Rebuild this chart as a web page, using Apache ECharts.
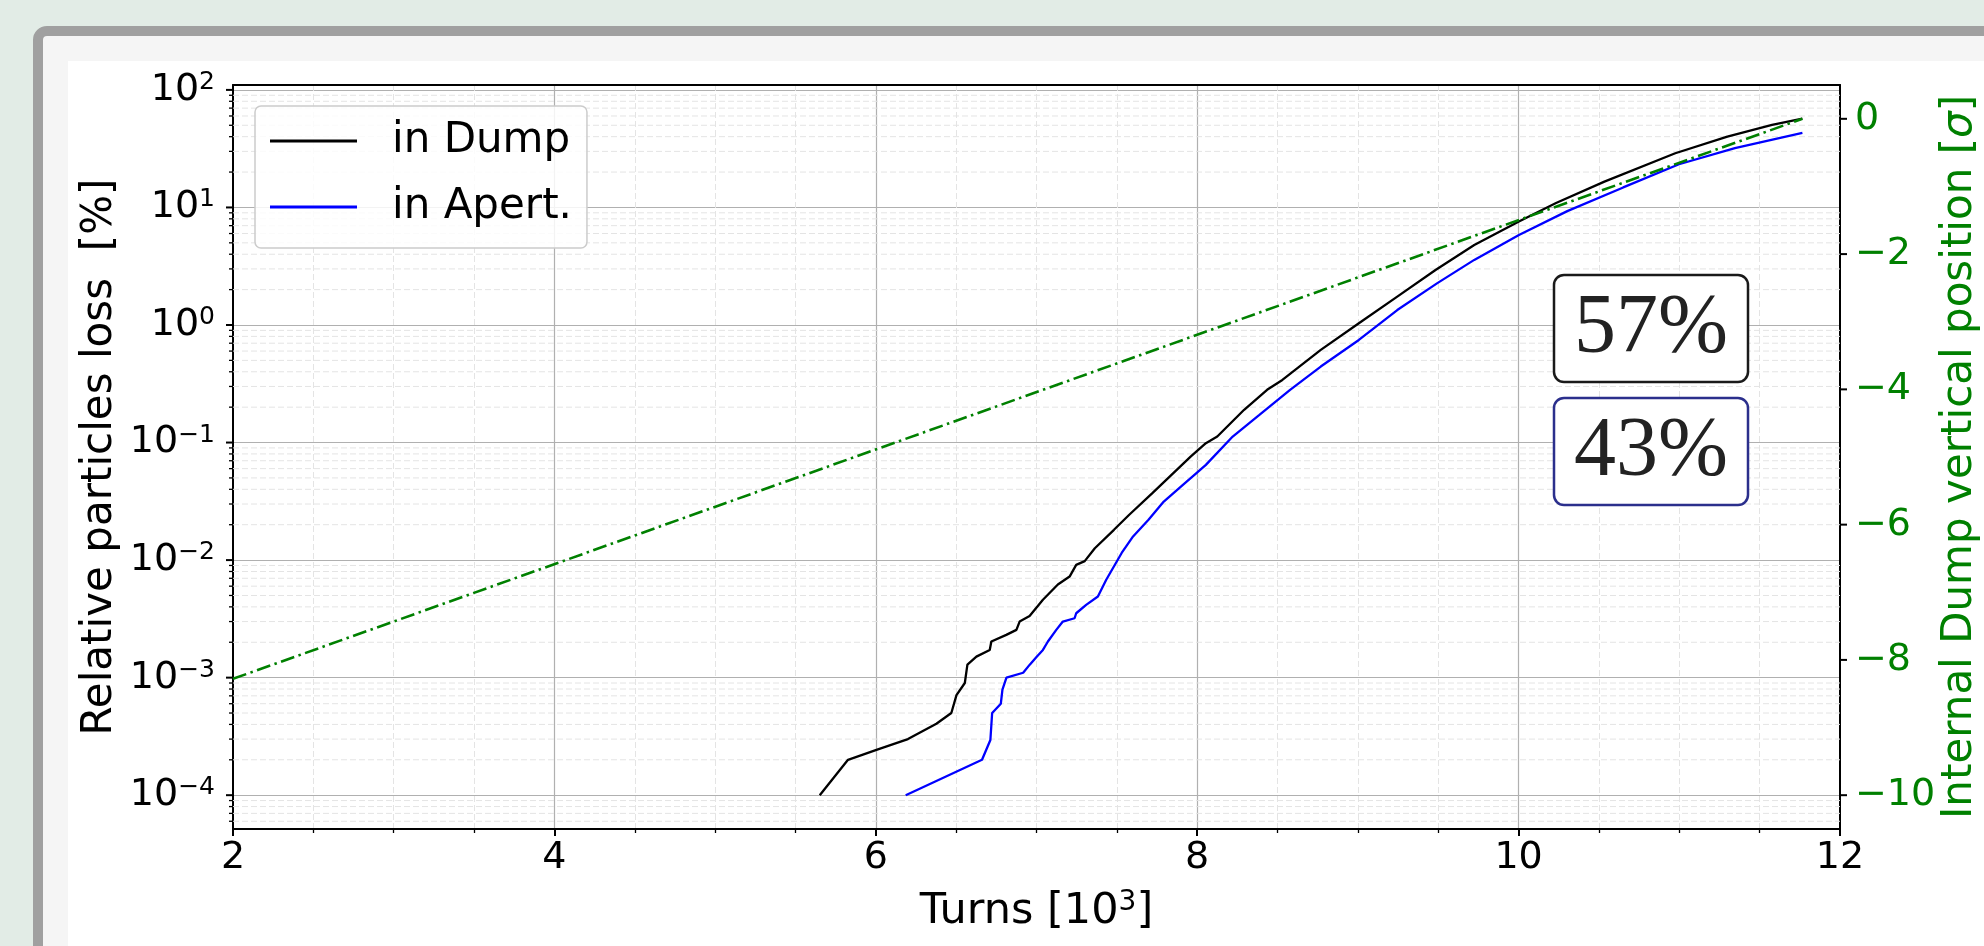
<!DOCTYPE html>
<html><head><meta charset="utf-8">
<script src="https://cdn.jsdelivr.net/npm/echarts@6/dist/echarts.min.js"></script>
<style>
html,body{margin:0;padding:0;width:1984px;height:946px;overflow:hidden;background:#e2ece6;}
#frame{position:absolute;left:33px;top:26px;width:2100px;height:1100px;border:10px solid #a0a0a0;border-radius:14px;background:#f5f5f5;box-sizing:border-box;}
#panel{position:absolute;left:68px;top:61px;width:2000px;height:1000px;background:#ffffff;}
#chart{position:absolute;left:0;top:0;width:1984px;height:946px;}
</style></head><body>
<div id="frame"></div><div id="panel"></div><div id="chart"></div>
<script>
// ---- data (turns in 10^3, loss in %) ----
const dumpTurns = [5.651,5.827,6.004,6.200,6.377,6.470,6.502,6.554,6.570,6.626,6.709,6.719,6.812,6.875,6.895,6.957,7.040,7.133,7.206,7.247,7.300,7.363,7.482,7.577,7.721,7.840,7.959,8.054,8.125,8.292,8.435,8.530,8.769,9.006,9.245,9.483,9.724,10.002,10.233,10.534,10.975,11.299,11.577,11.766];
const dumpLoss  = [1e-4,2.0e-4,2.43e-4,3.0e-4,4.05e-4,5.0e-4,7.1e-4,9.0e-4,1.29e-3,1.51e-3,1.72e-3,2.03e-3,2.31e-3,2.55e-3,3.0e-3,3.35e-3,4.6e-3,6.2e-3,7.24e-3,9.1e-3,9.8e-3,0.0126,0.0181,0.0243,0.0371,0.0531,0.076,0.0987,0.1125,0.19,0.281,0.341,0.614,1.035,1.745,2.94,4.80,7.58,10.9,16.6,28.9,40.1,50.4,57.0];
const apertTurns = [6.186,6.661,6.713,6.724,6.778,6.788,6.813,6.917,6.958,7.000,7.040,7.071,7.123,7.164,7.237,7.247,7.309,7.382,7.434,7.530,7.601,7.697,7.792,7.911,8.006,8.054,8.221,8.387,8.578,8.769,9.006,9.245,9.492,9.724,10.002,10.303,10.651,10.998,11.346,11.766];
const apertLoss  = [1e-4,2.0e-4,2.95e-4,5.0e-4,6.0e-4,7.9e-4,1.0e-3,1.1e-3,1.29e-3,1.5e-3,1.72e-3,2.03e-3,2.55e-3,3.0e-3,3.2e-3,3.53e-3,4.16e-3,4.9e-3,6.8e-3,0.0115,0.0159,0.022,0.0315,0.0436,0.0566,0.0646,0.1125,0.172,0.281,0.443,0.746,1.34,2.26,3.58,5.83,9.3,14.8,23.3,32.0,43.0];
const dumpPosTurns = [2.0, 11.766];
const dumpPosSigma = [-8.28, 0.0];
const seriesNames = ['in Dump', 'in Apert.'];
const boxLabels = ['57%', '43%'];
// axis ranges / ticks
const X_MIN = 2, X_MAX = 12, X_STEP = 2;
const Y_MIN = Math.pow(10, -4.2877), Y_MAX = Math.pow(10, 2.0417);
const R_MIN = -10.5, R_MAX = 0.5;
const leftMajor = [1e-4, 1e-3, 1e-2, 1e-1, 1, 10, 100];
const rightMajor = [-10, -8, -6, -4, -2, 0];
const leftMinor = [];
for (let k = -5; k <= 2; k++) for (let m = 2; m <= 9; m++) { const v = m * Math.pow(10, k); if (v > Y_MIN && v < Y_MAX) leftMinor.push(v); }

const FONT = 'DejaVu Sans';
const TICK_FS = 38, NAME_FS = 42, LEG_FS = 42;
const GREEN = '#008000';
const minus = s => String(s).replace('-', '\u2212');

function logLabel(v) {
  const e = Math.log10(v), r = Math.round(e);
  if (Math.abs(e - r) > 1e-6) return '';
  return '{b|10}{s|' + minus(r) + '}';
}
function rightLabel(v) {
  const r = Math.round(v);
  if (Math.abs(v - r) > 1e-6 || r % 2 !== 0) return '';
  return r === 0 ? '0' : minus(r);
}

const chart = echarts.init(document.getElementById('chart'), null, {renderer: 'canvas'});
const tickSeries = (data, yIdx, xAt, len, width, grid) => ({
  type: 'custom', xAxisIndex: 0, yAxisIndex: yIdx, silent: true, z: 1, clip: false,
  data: data.map(v => [xAt, v]),
  renderItem: (params, api) => {
    const p0 = api.coord([xAt, api.value(1)]);
    const children = [{type: 'line', shape: {x1: p0[0], y1: p0[1], x2: p0[0] + len, y2: p0[1]}, style: {stroke: '#000', lineWidth: width}}];
    if (grid) {
      const p1 = api.coord([X_MAX, api.value(1)]);
      children.unshift({type: 'line', shape: {x1: p0[0], y1: p0[1], x2: p1[0], y2: p1[1]}, style: {stroke: '#e4e4e4', lineWidth: 1, lineDash: [6, 3]}});
    }
    return {type: 'group', children};
  }
});

const option = {
  backgroundColor: 'transparent',
  animation: false,
  grid: {left: 233, top: 85, width: 1607, height: 744, containLabel: false, outerBoundsMode: 'none'},
  legend: {
    data: seriesNames, orient: 'vertical', left: 255, top: 106,
    icon: 'rect', itemWidth: 87, itemHeight: 3, itemGap: 24,
    padding: [14, 15, 20, 15],
    backgroundColor: 'rgba(255,255,255,0.85)', borderColor: '#cccccc', borderWidth: 1.5, borderRadius: 6,
    textStyle: {fontSize: LEG_FS, fontFamily: FONT, color: '#000', padding: [0, 0, 0, 30]}
  },
  xAxis: [{
    type: 'value', min: X_MIN, max: X_MAX, interval: X_STEP, position: 'bottom',
    axisLine: {show: true, onZero: false, lineStyle: {color: '#000', width: 2}},
    axisTick: {show: true, length: 7, lineStyle: {color: '#000', width: 2}},
    minorTick: {show: true, splitNumber: 4, length: 4, lineStyle: {color: '#000', width: 1.3}},
    axisLabel: {margin: 10, fontSize: TICK_FS, fontFamily: FONT, color: '#000'},
    splitLine: {show: true, showMinLine: false, showMaxLine: false, lineStyle: {color: '#b0b0b0', width: 1.2}},
    minorSplitLine: {show: true, lineStyle: {color: '#e4e4e4', width: 1, type: [6, 3]}},
    name: '{t|Turns [10}{s|3}{t|]}', nameLocation: 'middle', nameGap: 60, nameMoveOverlap: false,
    nameTextStyle: {fontSize: 43, fontFamily: FONT, color: '#000',
      rich: {t: {fontSize: 43, fontFamily: FONT, color: '#000', lineHeight: 45}, s: {fontSize: 28, fontFamily: FONT, color: '#000', verticalAlign: 'top', lineHeight: 28}}}
  }, {
    type: 'value', min: X_MIN, max: X_MAX, interval: X_STEP, position: 'top',
    axisLine: {show: true, onZero: false, lineStyle: {color: '#000', width: 2}},
    axisTick: {show: false}, axisLabel: {show: false}, splitLine: {show: false}
  }],
  yAxis: [{
    type: 'log', logBase: 10, min: Y_MIN, max: Y_MAX, position: 'left',
    axisLine: {show: true, onZero: false, lineStyle: {color: '#000', width: 2}},
    axisTick: {show: false},
    axisLabel: {margin: 18, formatter: logLabel,
      rich: {b: {fontSize: TICK_FS, fontFamily: FONT, color: '#000', lineHeight: 40}, s: {fontSize: 25, fontFamily: FONT, color: '#000', verticalAlign: 'top', lineHeight: 25}}},
    splitLine: {show: true, showMinLine: false, showMaxLine: false, lineStyle: {color: '#b0b0b0', width: 1.2}},
    name: 'Relative particles loss  [%]', nameLocation: 'middle', nameGap: 112, nameMoveOverlap: false,
    nameTextStyle: {fontSize: NAME_FS, fontFamily: FONT, color: '#000'}
  }, {
    type: 'value', min: R_MIN, max: R_MAX, minInterval: 2, maxInterval: 2, position: 'right',
    axisLine: {show: true, onZero: false, lineStyle: {color: '#000', width: 2}},
    axisTick: {show: false},
    axisLabel: {margin: 15, formatter: rightLabel, fontSize: TICK_FS, fontFamily: FONT, color: GREEN},
    splitLine: {show: false},
    name: '{n|Internal Dump vertical position [}{i|σ}{n|]}', nameLocation: 'middle', nameGap: 99, nameMoveOverlap: false,
    nameTextStyle: {fontSize: NAME_FS, fontFamily: FONT, color: GREEN,
      rich: {n: {fontSize: NAME_FS, fontFamily: FONT, color: GREEN}, i: {fontSize: NAME_FS, fontFamily: FONT, fontStyle: 'italic', color: GREEN}}}
  }],
  series: [
    tickSeries(leftMinor, 0, X_MIN, -4, 1.3, true),
    tickSeries(leftMajor, 0, X_MIN, -7, 2, false),
    tickSeries(rightMajor, 1, X_MAX, 7, 2, false),
    {name: seriesNames[0], type: 'line', xAxisIndex: 0, yAxisIndex: 0, symbol: 'none', showSymbol: false, z: 3,
     data: dumpTurns.map((x, i) => [x, dumpLoss[i]]),
     lineStyle: {color: '#000000', width: 2.3}, itemStyle: {color: '#000000'}},
    {name: seriesNames[1], type: 'line', xAxisIndex: 0, yAxisIndex: 0, symbol: 'none', showSymbol: false, z: 3,
     data: apertTurns.map((x, i) => [x, apertLoss[i]]),
     lineStyle: {color: '#0000ff', width: 2.3}, itemStyle: {color: '#0000ff'}},
    {name: 'Dump position', type: 'line', xAxisIndex: 0, yAxisIndex: 1, symbol: 'none', showSymbol: false, z: 4,
     data: dumpPosTurns.map((x, i) => [x, dumpPosSigma[i]]),
     lineStyle: {color: GREEN, width: 2.6, type: [14, 4.5, 2.5, 4.5]}, itemStyle: {color: GREEN}}
  ],
  graphic: [
    {type: 'rect', z: 10, shape: {x: 1554, y: 275, width: 194, height: 107, r: 10}, style: {fill: '#fff', stroke: '#1a1a1a', lineWidth: 2.5}},
    {type: 'text', z: 11, x: 1651, y: 330, style: {text: boxLabels[0], font: '84px "Liberation Serif"', fill: '#222', align: 'center', verticalAlign: 'middle'}},
    {type: 'rect', z: 10, shape: {x: 1554, y: 398, width: 194, height: 107, r: 10}, style: {fill: '#fff', stroke: '#2b2f8c', lineWidth: 2.5}},
    {type: 'text', z: 11, x: 1651, y: 453, style: {text: boxLabels[1], font: '84px "Liberation Serif"', fill: '#222', align: 'center', verticalAlign: 'middle'}}
  ]
};
chart.setOption(option);
</script>
</body></html>
